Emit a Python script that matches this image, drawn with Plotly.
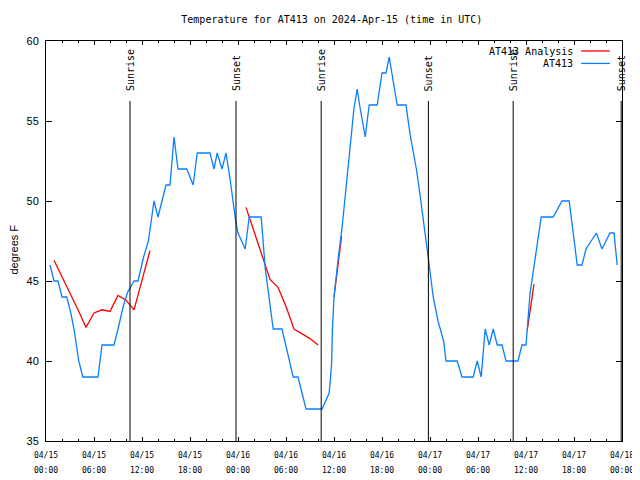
import pandas as pd
import plotly.graph_objects as go

title_text = "Temperature for AT413 on 2024-Apr-15 (time in UTC)"
base = pd.Timestamp("2024-04-15 00:00")

# AT413 observations (hours after 04/15 00:00 UTC, degrees F)
obs_hours = [0.5, 1.0, 1.5, 2.0, 2.6, 3.1, 3.5, 3.8, 4.1, 4.6, 6.5, 7.0, 8.5, 9.0, 9.7,
             10.2, 11.0, 11.5, 12.2, 12.8, 13.2, 13.5, 14.0, 15.0, 15.5, 16.0, 16.5, 17.6,
             18.4, 18.9, 20.5, 21.0, 21.4, 22.0, 22.5, 23.0, 23.7, 24.0, 24.9, 25.4, 26.9,
             27.4, 28.4, 29.5, 30.9, 31.5, 32.5, 34.5, 35.4, 35.7, 35.8, 36.0, 36.5, 37.0,
             37.4, 37.8, 38.2, 38.5, 38.9, 39.2, 39.9, 40.4, 41.4, 42.0, 42.5, 42.9, 43.9,
             45.0, 45.5, 46.3, 46.75, 47.2, 47.7, 47.9, 48.4, 49.0, 49.7, 50.0, 51.4, 52.0,
             53.4, 53.9, 54.4, 54.9, 55.4, 55.9, 56.4, 57.0, 57.5, 59.0, 59.5, 60.0, 60.5,
             61.1, 61.9, 63.4, 64.5, 65.4, 66.4, 67.0, 67.5, 68.8, 69.5, 70.5, 71.0, 71.4]
obs_temps = [46, 45, 45, 44, 44, 43, 42, 41, 40, 39, 39, 41, 41, 42, 43.5,
             44.3, 45, 45, 46.5, 47.5, 48.9, 50, 49, 51, 51, 54, 52, 52,
             51, 53, 53, 52, 53, 52, 53, 51.4, 48.8, 48, 47, 49, 49,
             45.8, 42, 42, 39, 39, 37, 37, 38, 39.8, 42, 44.0, 46.3, 48.3,
             50.3, 52.3, 54, 55.8, 57, 56, 54, 56, 56, 58, 58, 59, 56,
             56, 54.2, 52, 50.4, 48.75, 47, 46, 44, 42.5, 41.25, 40, 40, 39,
             39, 40, 39, 42, 41, 42, 41, 41, 40, 40, 41, 41, 44.2,
             46.25, 49, 49, 50, 50, 46, 46, 47, 48, 47, 48, 48, 46]

# AT413 Analysis (segments separated by None)
ana_hours = [1, 2, 3, 4, 5, 6, 7, 8, 9, 10, 11, 12, 13, None,
             25, 26, 27, 28, 29, 30, 31, 32, 33, 34, None,
             36.0, 36.95, None,
             60.15, 61]
ana_temps = [46.3, 45.3, 44.2, 43.2, 42.1, 43.0, 43.2, 43.1, 44.1, 43.8, 43.2, 45.0, 46.9, None,
             49.6, 48.1, 46.6, 45.1, 44.6, 43.4, 42.0, 41.7, 41.4, 41.0, None,
             44.0, 47.8, None,
             41.9, 44.8]

sun_hours = [10.5, 23.75, 34.4, 47.8, 58.4, 71.9]
sun_labels = ["Sunrise", "Sunset", "Sunrise", "Sunset", "Sunrise", "Sunset"]

tick_hours = list(range(0, 73, 6))
tick_days = ["04/15", "04/15", "04/15", "04/15", "04/16", "04/16", "04/16", "04/16",
             "04/17", "04/17", "04/17", "04/17", "04/18"]
tick_times = ["00:00", "06:00", "12:00", "18:00"] * 3 + ["00:00"]

legend_names = ["AT413 Analysis", "AT413"]
colors = ["#ff0000", "#0a80ff"]


def to_time(h):
    return None if h is None else base + pd.Timedelta(hours=h)


MONO = "DejaVu Sans Mono"
SANS = "Liberation Sans"

fig = go.Figure()
fig.add_trace(go.Scatter(x=[to_time(h) for h in ana_hours], y=ana_temps, mode="lines",
                         line=dict(color=colors[0], width=1.3), name=legend_names[0],
                         connectgaps=False, showlegend=False))
fig.add_trace(go.Scatter(x=[to_time(h) for h in obs_hours], y=obs_temps, mode="lines",
                         line=dict(color=colors[1], width=1.3), name=legend_names[1],
                         showlegend=False))

shapes = []
annotations = []
for h, lab in zip(sun_hours, sun_labels):
    t = to_time(h)
    shapes.append(dict(type="line", xref="x", yref="paper", x0=t, x1=t, y0=0, y1=0.85,
                       line=dict(color="black", width=1)))
    annotations.append(dict(text=lab, xref="x", yref="paper", x=t, y=0.87, textangle=-90,
                            showarrow=False, xanchor="center", yanchor="bottom",
                            font=dict(family=MONO, size=10, color="black")))

# manual legend (text right-aligned, line sample to the right)
leg_y = [0.975, 0.944]
for name, col, ly in zip(legend_names, colors, leg_y):
    annotations.append(dict(text=name, xref="paper", yref="paper", x=0.919, y=ly,
                            xanchor="right", yanchor="middle", showarrow=False,
                            font=dict(family=MONO, size=10, color="black")))
    shapes.append(dict(type="line", xref="paper", yref="paper", x0=0.929, x1=0.979,
                       y0=ly, y1=ly, line=dict(color=col, width=1.3)))

annotations.append(dict(text="degrees F", xref="paper", yref="paper", x=-0.0547, y=0.48,
                        textangle=-90, showarrow=False, xanchor="center", yanchor="middle",
                        font=dict(family=SANS, size=11, color="black")))

ticktext = [f'<span style="font-size:8px">{d}</span><br><span style="font-size:8px">{tm}</span>'
            for d, tm in zip(tick_days, tick_times)]

# the page body adds an 8px offset, so margins compensate for it
fig.update_layout(
    width=640, height=480,
    margin=dict(l=38, r=26, t=33, b=47, autoexpand=False),
    paper_bgcolor="white", plot_bgcolor="white",
    title=dict(text=title_text, x=0.506, xanchor="center", y=1 - 11 / 480, yanchor="middle",
               font=dict(family=MONO, size=10, color="black")),
    shapes=shapes, annotations=annotations,
    xaxis=dict(range=[to_time(0), to_time(72)], tickmode="array", automargin=False,
               tickvals=[to_time(h) for h in tick_hours], ticktext=ticktext,
               ticks="inside", ticklen=4, tickcolor="black", showgrid=False, zeroline=False,
               showline=True, linecolor="black", linewidth=1, mirror="ticks",
               ticklabelstandoff=3,
               tickfont=dict(family=MONO, size=11, color="black"),
               minor=dict(ticks="inside", ticklen=2, tickcolor="black",
                          tick0=to_time(0), dtick=2 * 3600 * 1000, showgrid=False)),
    yaxis=dict(range=[35, 60], dtick=5, ticks="inside", ticklen=6, tickcolor="black",
               automargin=False,
               showgrid=False, zeroline=False, showline=True, linecolor="black", linewidth=1,
               mirror="ticks", ticklabelstandoff=4,
               tickfont=dict(family=SANS, size=11, color="black")),
)

fig.write_html("out.html")
